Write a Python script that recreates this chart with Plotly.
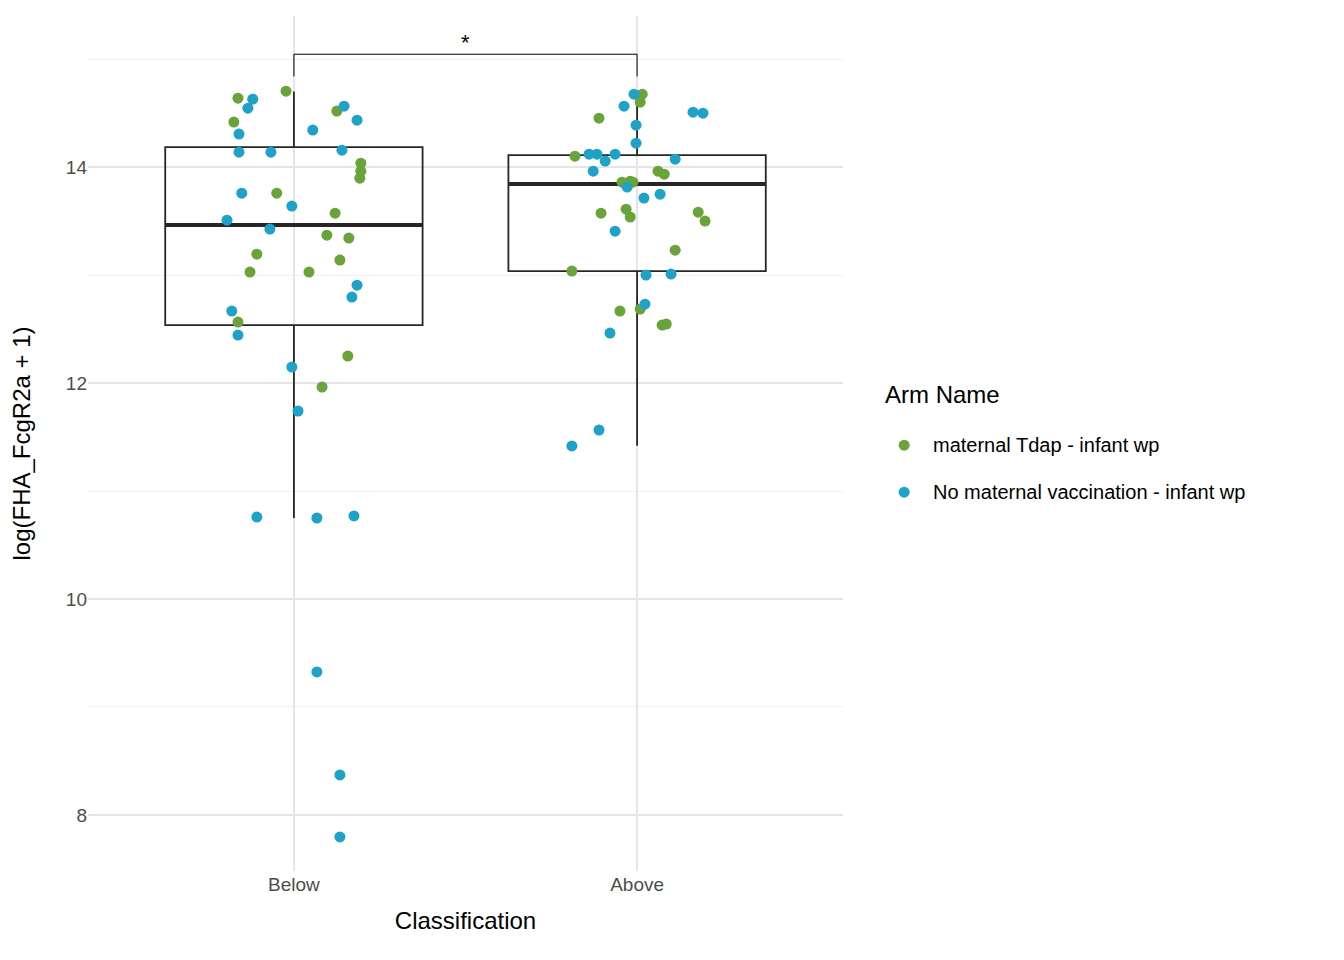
import plotly.graph_objects as go

GREEN = "#6aa33a"
BLUE = "#1fa2c8"

categories = ["Below", "Above"]

# jitter offsets (category units) and values
below_tdap_dx = [-0.163, -0.175, -0.023, 0.125, 0.195, 0.195, 0.192, -0.050, 0.120, 0.096,
                 0.160, -0.108, -0.128, 0.044, 0.134, -0.163, 0.157, 0.082]
below_tdap_y = [14.639, 14.417, 14.704, 14.519, 14.037, 13.963, 13.898, 13.759, 13.574, 13.370,
                13.343, 13.194, 13.028, 13.028, 13.139, 12.565, 12.250, 11.963]
below_none_dx = [-0.120, -0.134, 0.146, -0.160, 0.055, 0.184, -0.160, -0.067, 0.140, -0.152,
                 -0.006, -0.195, -0.070, 0.184, 0.169, -0.181, -0.163, -0.006, 0.012, -0.108,
                 0.067, 0.175, 0.067, 0.134, 0.134]
below_none_y = [14.630, 14.546, 14.565, 14.306, 14.343, 14.435, 14.139, 14.139, 14.157, 13.759,
                13.639, 13.509, 13.426, 12.907, 12.796, 12.667, 12.444, 12.148, 11.741, 10.759,
                10.750, 10.769, 9.324, 8.370, 7.796]
above_tdap_dx = [0.015, 0.009, -0.111, -0.181, -0.020, -0.044, -0.012, 0.061, 0.079, -0.105,
                 -0.032, -0.020, 0.178, 0.198, 0.111, -0.190, -0.050, 0.009, 0.073, 0.085]
above_tdap_y = [14.676, 14.602, 14.454, 14.102, 13.870, 13.861, 13.861, 13.963, 13.935, 13.574,
                13.611, 13.537, 13.583, 13.500, 13.231, 13.037, 12.667, 12.685, 12.537, 12.546]
above_none_dx = [-0.009, -0.038, -0.003, 0.163, 0.192, -0.003, -0.140, -0.117, -0.064, -0.093,
                 -0.128, 0.111, -0.029, 0.020, 0.067, -0.064, 0.026, 0.099, 0.023, -0.079,
                 -0.111, -0.190]
above_none_y = [14.676, 14.565, 14.389, 14.509, 14.500, 14.222, 14.120, 14.120, 14.120, 14.056,
                13.963, 14.074, 13.815, 13.713, 13.750, 13.407, 13.000, 13.009, 12.731, 12.463,
                11.565, 11.417]

# box statistics per category
q1 = [12.537, 13.037]
median = [13.463, 13.843]
q3 = [14.185, 14.111]
lower = [10.75, 11.42]
upper = [14.70, 14.68]

arm_names = ["maternal Tdap - infant wp", "No maternal vaccination - infant wp"]

fig = go.Figure()

for i in range(2):
    fig.add_trace(go.Box(
        x=[i], q1=[q1[i]], median=[median[i]], q3=[q3[i]],
        lowerfence=[lower[i]], upperfence=[upper[i]],
        width=0.75, fillcolor="rgba(0,0,0,0)", line={"color": "#262626", "width": 1.8},
        whiskerwidth=0, boxpoints=False, showlegend=False, hoverinfo="skip",
    ))
    fig.add_trace(go.Scatter(
        x=[i - 0.375, i + 0.375], y=[median[i], median[i]], mode="lines",
        line={"color": "#262626", "width": 4}, showlegend=False, hoverinfo="skip",
    ))

groups = [
    (arm_names[0], GREEN, [(0, below_tdap_dx, below_tdap_y), (1, above_tdap_dx, above_tdap_y)]),
    (arm_names[1], BLUE, [(0, below_none_dx, below_none_y), (1, above_none_dx, above_none_y)]),
]
for name, color, parts in groups:
    xs, ys = [], []
    for c, dx, yv in parts:
        xs += [c + d for d in dx]
        ys += yv
    fig.add_trace(go.Scatter(
        x=xs, y=ys, mode="markers", name=name, showlegend=False,
        marker={"color": color, "size": 11},
    ))

# significance bracket
fig.add_trace(go.Scatter(
    x=[0, 0, 1, 1], y=[14.84, 15.046, 15.046, 14.84], mode="lines",
    line={"color": "black", "width": 1}, showlegend=False, hoverinfo="skip",
))
fig.add_annotation(x=0.5, y=15.02, text="*", showarrow=False, yanchor="bottom",
                   font={"size": 22, "color": "black"})

# manual legend (ggplot-style spacing)
fig.add_annotation(xref="paper", yref="paper", x=1.053, y=0.557, text="Arm Name",
                   showarrow=False, xanchor="left", yanchor="middle", font={"size": 24})
for k, (name, color, _) in enumerate(groups):
    yc = 0.498 - k * 0.055
    fig.add_shape(type="circle", xref="paper", yref="paper",
                  x0=1.081 - 0.0073, x1=1.081 + 0.0073, y0=yc - 0.0064, y1=yc + 0.0064,
                  fillcolor=color, line={"width": 0})
    fig.add_annotation(xref="paper", yref="paper", x=1.116, y=yc, text=name,
                       showarrow=False, xanchor="left", yanchor="middle", font={"size": 20})

fig.update_layout(
    width=1344, height=960,
    paper_bgcolor="white", plot_bgcolor="white",
    font={"family": "Liberation Sans, Arial, sans-serif", "color": "black", "size": 20},
    margin={"l": 80, "r": 509, "t": 8, "b": 97},
    showlegend=False,
)
fig.update_xaxes(
    range=[-0.6, 1.6], tickvals=[0, 1], ticktext=categories,
    title={"text": "Classification", "font": {"size": 24}, "standoff": 18},
    showgrid=True, gridcolor="#e5e5e5", gridwidth=1.5, zeroline=False,
    tickfont={"color": "#4d4d4d", "size": 19},
)
fig.update_yaxes(
    range=[7.48, 15.4], tickvals=[8, 10, 12, 14],
    title={"text": "log(FHA_FcgR2a + 1)", "font": {"size": 24}, "standoff": 28},
    showgrid=True, gridcolor="#e5e5e5", gridwidth=1.5, zeroline=False,
    minor={"tickvals": [9, 11, 13, 15], "showgrid": True, "gridcolor": "#f0f0f0", "gridwidth": 1},
    tickfont={"color": "#4d4d4d", "size": 19},
)

fig.write_html("out.html")
